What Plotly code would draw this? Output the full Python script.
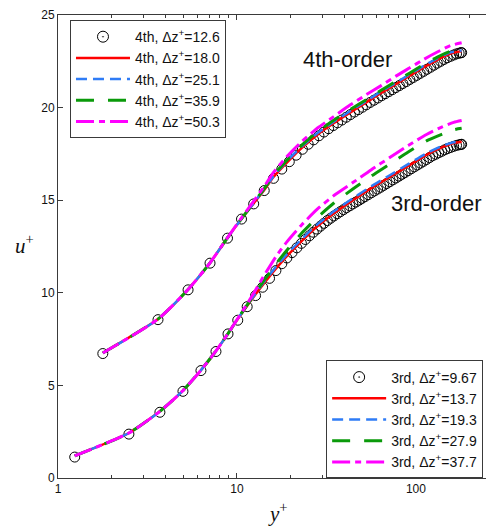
import plotly.graph_objects as go

# ---------------- data ----------------
# 3rd-order: reference (finest) case, circles
y3_circ = [1.24, 2.49, 3.71, 4.99, 6.29, 7.63, 8.91, 10.1, 11.4, 12.7, 13.9, 15.2, 16.5, 17.8,
           19.0, 20.3, 21.6, 22.9, 24.1, 25.4, 26.7, 28.0, 29.3, 30.6, 32.0, 33.4, 34.8, 36.3,
           37.8, 39.4, 41.0, 42.7, 44.4, 46.2, 48.1, 50.0, 52.0, 54.1, 56.3, 58.6, 61.0, 63.5,
           66.0, 68.7, 71.4, 74.3, 77.3, 80.4, 83.6, 87.0, 90.5, 94.1, 97.9, 101.8, 105.9, 110.1,
           114.5, 119.1, 123.9, 128.8, 133.9, 139.2, 144.7, 150.4, 156.3, 162.4, 168.5, 174.2,
           178.4, 180.0]
u3_circ = [1.13, 2.37, 3.55, 4.68, 5.80, 6.83, 7.78, 8.52, 9.25, 9.85, 10.3, 10.78, 11.2, 11.57,
           11.88, 12.17, 12.43, 12.67, 12.88, 13.08, 13.27, 13.44, 13.6, 13.75, 13.9, 14.03, 14.15, 14.27,
           14.38, 14.49, 14.6, 14.7, 14.8, 14.9, 15.0, 15.1, 15.2, 15.3, 15.4, 15.5, 15.6, 15.7,
           15.8, 15.9, 16.0, 16.1, 16.2, 16.3, 16.4, 16.5, 16.6, 16.7, 16.8, 16.9, 17.0, 17.1,
           17.2, 17.3, 17.4, 17.48, 17.56, 17.64, 17.72, 17.79, 17.85, 17.91, 17.96, 17.99,
           18.01, 18.02]

y3_line = [1.24, 2.49, 3.71, 4.99, 6.29, 7.63, 8.91, 10.1, 11.4, 12.7, 14.0, 16.5, 19.0, 22.9,
           28.0, 34.8, 44.4, 56.3, 71.4, 90.5, 114.5, 139.2, 162.4, 180.0]
u3_red = [1.2, 2.43, 3.6, 4.72, 5.82, 6.86, 7.8, 8.58, 9.3, 9.92, 10.45, 11.3, 11.98, 12.78,
          13.58, 14.3, 15.0, 15.65, 16.25, 16.85, 17.45, 17.85, 18.08, 18.15]
u3_blue = [1.2, 2.43, 3.6, 4.72, 5.82, 6.86, 7.8, 8.6, 9.33, 9.97, 10.53, 11.4, 12.08, 12.88,
           13.68, 14.4, 15.1, 15.75, 16.35, 16.95, 17.53, 17.92, 18.13, 18.18]
u3_green = [1.2, 2.43, 3.6, 4.72, 5.82, 6.86, 7.8, 8.6, 9.35, 10.0, 10.6, 11.55, 12.3, 13.2,
            14.05, 14.85, 15.6, 16.3, 16.95, 17.6, 18.2, 18.55, 18.8, 18.88]
u3_mag = [1.2, 2.43, 3.6, 4.72, 5.82, 6.86, 7.8, 8.62, 9.4, 10.15, 10.85, 11.95, 12.75, 13.65,
          14.5, 15.25, 15.95, 16.65, 17.3, 17.95, 18.55, 18.95, 19.2, 19.3]

# 4th-order (plotted with a +5 shift as in the reference)
y4_circ = [1.78, 3.62, 5.33, 7.07, 8.85, 10.6, 12.4, 14.2, 16.0, 17.8, 19.6, 21.4, 23.2, 25.0,
           26.8, 28.7, 30.6, 32.5, 34.5, 36.5, 38.6, 40.8, 43.0, 45.3, 47.7, 50.2, 52.8, 55.5,
           58.3, 61.2, 64.2, 67.3, 70.5, 73.8, 77.2, 80.8, 84.5, 88.4, 92.4, 96.6, 101.0, 105.6,
           110.4, 115.4, 120.6, 126.0, 131.6, 137.4, 143.4, 149.6, 156.0, 162.4, 168.5, 174.2,
           178.4, 180.0]
u4_circ = [6.72, 8.55, 10.16, 11.6, 12.95, 13.98, 14.8, 15.52, 16.18, 16.68, 17.08, 17.43, 17.75, 18.02,
           18.26, 18.48, 18.68, 18.86, 19.03, 19.18, 19.33, 19.48, 19.62, 19.76, 19.89, 20.02, 20.15, 20.28,
           20.4, 20.52, 20.64, 20.75, 20.86, 20.97, 21.08, 21.19, 21.3, 21.41, 21.52, 21.63, 21.74, 21.85,
           21.96, 22.07, 22.18, 22.29, 22.4, 22.5, 22.6, 22.69, 22.77, 22.84, 22.9, 22.94,
           22.96, 22.97]

y4_line = [1.78, 3.62, 5.33, 7.07, 8.85, 10.6, 12.4, 14.2, 16.0, 19.6, 23.2, 28.7, 34.5, 43.0,
           52.8, 64.2, 77.2, 92.4, 110.4, 131.6, 156.0, 180.0]
u4_red = [6.75, 8.58, 10.18, 11.62, 12.97, 14.0, 14.83, 15.55, 16.25, 17.17, 17.85, 18.6, 19.14, 19.74,
          20.28, 20.8, 21.26, 21.72, 22.17, 22.58, 22.92, 23.05]
u4_blue = [6.75, 8.58, 10.18, 11.62, 12.97, 14.0, 14.85, 15.6, 16.3, 17.25, 17.93, 18.68, 19.22, 19.82,
           20.36, 20.88, 21.34, 21.8, 22.25, 22.66, 22.98, 23.08]
u4_green = [6.75, 8.58, 10.18, 11.62, 12.97, 14.0, 14.87, 15.63, 16.35, 17.3, 18.0, 18.75, 19.3, 19.9,
            20.43, 20.95, 21.42, 21.87, 22.32, 22.73, 23.04, 23.12]
u4_mag = [6.75, 8.58, 10.18, 11.62, 12.98, 14.05, 14.95, 15.75, 16.5, 17.5, 18.2, 18.95, 19.5, 20.15,
          20.7, 21.2, 21.7, 22.15, 22.6, 23.0, 23.35, 23.5]

names4 = ["4th, \u0394z<sup>+</sup>=12.6", "4th, \u0394z<sup>+</sup>=18.0", "4th, \u0394z<sup>+</sup>=25.1",
          "4th, \u0394z<sup>+</sup>=35.9", "4th, \u0394z<sup>+</sup>=50.3"]
names3 = ["3rd, \u0394z<sup>+</sup>=9.67", "3rd, \u0394z<sup>+</sup>=13.7", "3rd, \u0394z<sup>+</sup>=19.3",
          "3rd, \u0394z<sup>+</sup>=27.9", "3rd, \u0394z<sup>+</sup>=37.7"]

x_ticks = [1, 10, 100]
x_minor = [2, 3, 4, 5, 6, 7, 8, 9, 20, 30, 40, 50, 60, 70, 80, 90, 200]
y_ticks = [0, 5, 10, 15, 20, 25]

# ---------------- styles ----------------
RED = "#ff0000"
BLUE = "#2f7cf6"
GREEN = "#0a9a0a"
MAG = "#ff00ff"
styles = [
    dict(color=RED, width=2.5, dash="solid"),
    dict(color=BLUE, width=2.5, dash="11px,6px"),
    dict(color=GREEN, width=3, dash="18px,14px"),
    dict(color=MAG, width=3, dash="18px,5px,6px,5px"),
]

fig = go.Figure()


def add_group(yc, uc, yl, lines, names, legend):
    fig.add_trace(go.Scatter(x=yc, y=uc, mode="markers", showlegend=False,
                             marker=dict(symbol="circle-open", size=10, color="black",
                                         line=dict(width=1, color="black"))))
    fig.add_trace(go.Scatter(x=[None], y=[None], mode="markers", name=names[0], legend=legend,
                             marker=dict(symbol="circle-open-dot", size=11, color="black",
                                         line=dict(width=1, color="black"))))
    for u, st, nm in zip(lines, styles, names[1:]):
        fig.add_trace(go.Scatter(x=yl, y=u, mode="lines", name=nm, legend=legend,
                                 line=dict(color=st["color"], width=st["width"], dash=st["dash"],
                                           shape="spline", smoothing=0.6)))


add_group(y4_circ, u4_circ, y4_line, [u4_red, u4_blue, u4_green, u4_mag], names4, "legend")
add_group(y3_circ, u3_circ, y3_line, [u3_red, u3_blue, u3_green, u3_mag], names3, "legend2")

AX = "#3a3a3a"
FONT = "Liberation Sans, Arial, sans-serif"
LEGFONT = dict(size=14, family=FONT, color="#111")

fig.update_layout(
    width=486, height=518,
    margin=dict(l=50, r=0, t=5, b=48),
    paper_bgcolor="white", plot_bgcolor="white",
    font=dict(family=FONT, size=12, color="#111"),
    xaxis=dict(type="log", range=[0, 2.436], tickmode="array", tickvals=x_ticks,
               ticktext=[str(v) for v in x_ticks], ticks="inside", ticklen=5, tickcolor=AX,
               showline=True, linecolor=AX, linewidth=1, mirror="ticks", showgrid=False,
               zeroline=False, tickfont=dict(size=12), ticklabeloverflow="allow",
               minor=dict(tickmode="array", tickvals=x_minor, ticks="inside", ticklen=3,
                          tickcolor=AX, showgrid=False)),
    yaxis=dict(range=[0, 25], tickmode="array", tickvals=y_ticks, ticks="inside", ticklen=5,
               tickcolor=AX, showline=True, linecolor=AX, linewidth=1, showgrid=False,
               zeroline=False, tickfont=dict(size=12), ticklabeloverflow="allow"),
    legend=dict(x=0.0275, y=0.989, xanchor="left", yanchor="top", bgcolor="white",
                bordercolor=AX, borderwidth=1, font=LEGFONT, itemwidth=54, tracegroupgap=0),
    legend2=dict(x=0.615, y=0.2538, xanchor="left", yanchor="top", bgcolor="white",
                 bordercolor=AX, borderwidth=1, font=LEGFONT, itemwidth=54, tracegroupgap=0),
    annotations=[
        dict(text="4th-order", x=0.663, y=0.903, xref="paper", yref="paper", showarrow=False,
             xanchor="center", yanchor="middle", font=dict(size=22, family=FONT, color="#111")),
        dict(text="3rd-order", x=0.867, y=0.5935, xref="paper", yref="paper", showarrow=False,
             xanchor="center", yanchor="middle", font=dict(size=22, family=FONT, color="#111")),
        dict(text="<i>u</i><sup>+</sup>", x=-0.0757, y=0.505, xref="paper", yref="paper",
             xanchor="center", yanchor="middle", showarrow=False,
             font=dict(size=21, family="Liberation Serif, serif", color="#111")),
        dict(text="<i>y</i><sup>+</sup>", x=0.505, y=-0.0753, xref="paper", yref="paper",
             xanchor="center", yanchor="middle", showarrow=False,
             font=dict(size=21, family="Liberation Serif, serif", color="#111")),
    ],
)

fig.write_html("out.html")
